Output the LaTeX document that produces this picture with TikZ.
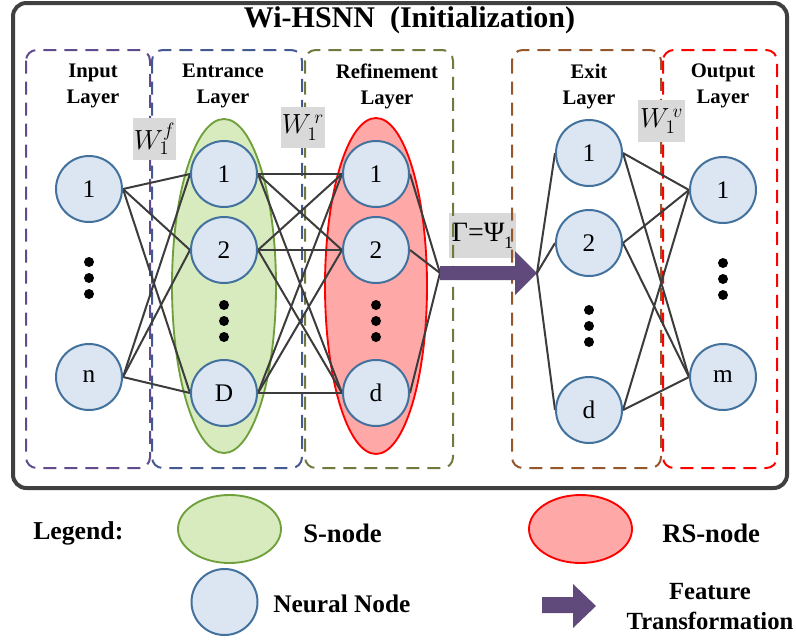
\documentclass[tikz,border=0pt]{standalone}
\usepackage{fontspec}
\setmainfont{Liberation Serif}
\usetikzlibrary{shapes.geometric}

\definecolor{nodefill}{HTML}{DCE6F2}
\definecolor{nodeline}{HTML}{41719C}
\definecolor{sfill}{HTML}{D7EBBF}
\definecolor{sline}{HTML}{70A03C}
\definecolor{rsfill}{HTML}{FFA8A8}
\definecolor{rsline}{HTML}{FF0000}
\definecolor{wirec}{HTML}{3C3C3C}
\definecolor{framec}{HTML}{404040}
\definecolor{inputc}{HTML}{604C8C}
\definecolor{entrc}{HTML}{44598F}
\definecolor{refc}{HTML}{6E7A3E}
\definecolor{exitc}{HTML}{94562A}
\definecolor{outc}{HTML}{FF0000}
\definecolor{featc}{HTML}{604A7B}
\definecolor{wboxc}{HTML}{D9D9D9}

\pgfdeclarelayer{back}
\pgfdeclarelayer{wires}
\pgfsetlayers{back,wires,main}

\begin{document}
\begin{tikzpicture}[x=0.75pt,y=-0.75pt,
  neuron/.style={circle, draw=nodeline, fill=nodefill, line width=1.5pt,
    minimum size=49.5pt, inner sep=0pt, font=\fontsize{19}{22}\selectfont},
  wire/.style={draw=wirec, line width=1.5pt},
  layerbox/.style={dash pattern=on 9.75pt off 6pt, line width=1.5pt, rounded corners=8pt},
  laylabel/.style={font=\fontsize{15.5}{19.5}\selectfont\bfseries, align=center,
    anchor=north, inner sep=0pt},
  weight/.style={fill=wboxc, inner sep=0pt, font=\fontsize{21}{24}\selectfont},
  legtext/.style={font=\fontsize{20}{22.5}\selectfont\bfseries, inner sep=0pt},
  sgroup/.style={ellipse, draw=sline, fill=sfill, line width=1.4pt, inner sep=0pt},
  rsgroup/.style={ellipse, draw=rsline, fill=rsfill, line width=1.4pt, inner sep=0pt},
  dotmark/.style={fill=black}
]
\useasboundingbox (0,0) rectangle (796,640);

% outer frame
\draw[draw=framec, line width=3pt, rounded corners=10pt] (13,3) rectangle (787,488);

% title
\node[font=\fontsize{22.5}{27}\selectfont\bfseries, anchor=base, inner sep=0pt]
  (title) at (409.5,27) {Wi-HSNN\ \ (Initialization)};

\begin{pgfonlayer}{back}
  % feature transformation label box (under the layer frames)
  \node[weight, minimum width=50.25pt, minimum height=33.75pt] (gam) at (482.5,235.5)
    {Γ=Ψ\raisebox{-0.55ex}{\fontsize{13}{13}\selectfont 1}};

  % layer frames
  \draw[layerbox, draw=inputc] (26,50) rectangle (150,468);
  \draw[layerbox, draw=entrc] (152,50) rectangle (302,468);
  \draw[layerbox, draw=refc] (305,50) rectangle (453,468);
  \draw[layerbox, draw=exitc] (512,50) rectangle (661,468);
  \draw[layerbox, draw=outc] (663,50) rectangle (777,468);

  % S-node and RS-node groups
  \node[sgroup, minimum width=78pt, minimum height=250.5pt] (sg) at (224,286) {};
  \node[rsgroup, minimum width=76.5pt, minimum height=252pt] (rsg) at (376,286) {};
\end{pgfonlayer}

% layer titles
\node[laylabel] (linput) at (93,64) {Input\\Layer};
\node[laylabel] (lentr) at (223,64) {Entrance\\Layer};
\node[laylabel] (lref) at (387,64) {Refinement\\Layer};
\node[laylabel] (lexit) at (589,64) {Exit\\Layer};
\node[laylabel] (lout) at (723,64) {Output\\Layer};

% neurons
\node[neuron] (i1) at (89,189) {1};
\node[neuron] (in) at (89,377) {n};
\node[neuron] (e1) at (224,174) {1};
\node[neuron] (e2) at (224,250) {2};
\node[neuron] (eD) at (224,393) {D};
\node[neuron] (r1) at (376,174) {1};
\node[neuron] (r2) at (376,250) {2};
\node[neuron] (rd) at (376,393) {d};
\node[neuron] (x1) at (589,153) {1};
\node[neuron] (x2) at (589,243) {2};
\node[neuron] (xd) at (589,410) {d};
\node[neuron] (o1) at (723,190) {1};
\node[neuron] (om) at (723,377) {m};

% arrow end points
\coordinate (ftail) at (440,273);
\coordinate (ftip) at (537,273);

% connections
\begin{pgfonlayer}{wires}
  \foreach \a in {i1,in} \foreach \b in {e1,e2,eD} \draw[wire] (\a.east) -- (\b.west);
  \foreach \a in {e1,e2,eD} \foreach \b in {r1,r2,rd} \draw[wire] (\a.east) -- (\b.west);
  \foreach \a in {r1,r2,rd} \draw[wire] (\a.east) -- (ftail);
  \foreach \b in {x1,x2,xd} \draw[wire] (ftip) -- (\b.west);
  \foreach \a in {x1,x2,xd} \foreach \b in {o1,om} \draw[wire] (\a.east) -- (\b.west);
\end{pgfonlayer}

% vertical ellipsis marks
\foreach \x/\y in {89/262, 224/305, 376/305, 589/310, 723/263}
  \foreach \k in {0,1,2}
    \fill[dotmark] (\x,\y+16*\k) circle (3.75pt);

% weight labels
\node[weight, minimum width=32.25pt, minimum height=31.5pt] (wf) at (154.5,139) {$W_1^{f}$};
\node[weight, minimum width=33pt, minimum height=30.75pt] (wr) at (303,127.5) {$W_1^{\,r}$};
\node[weight, minimum width=35.25pt, minimum height=31.5pt] (wv) at (661.5,121) {$W_1^{\,v}$};

% feature transformation arrow
\fill[featc] (ftail) ++(0,-7) -- (515,266) -- (515,251) -- (ftip) -- (515,295)
  -- (515,280) -- (440,280) -- cycle;

% legend
\node[legtext, anchor=base west, font=\fontsize{19.3}{22}\selectfont\bfseries]
  (leg) at (33,539) {Legend:};
\node[sgroup, minimum width=77.25pt, minimum height=51pt] (legs) at (229.5,529) {};
\node[legtext, anchor=base west] (legstext) at (303,542) {S-node};
\node[rsgroup, minimum width=77.25pt, minimum height=51pt] (legrs) at (580.5,529) {};
\node[legtext, anchor=base west] (legrstext) at (662,542) {RS-node};
\node[neuron] (legn) at (224.5,602) {};
\node[legtext, anchor=base west, font=\fontsize{19}{22}\selectfont\bfseries]
  (legntext) at (273,612) {Neural Node};
\fill[featc] (542,597) -- (573,597) -- (573,584) -- (596,606) -- (573,628)
  -- (573,613) -- (542,613) -- cycle;
\node[legtext, align=center, anchor=north, font=\fontsize{18.5}{22.5}\selectfont\bfseries]
  (legft) at (710,583) {Feature\\Transformation};
\end{tikzpicture}
\end{document}
